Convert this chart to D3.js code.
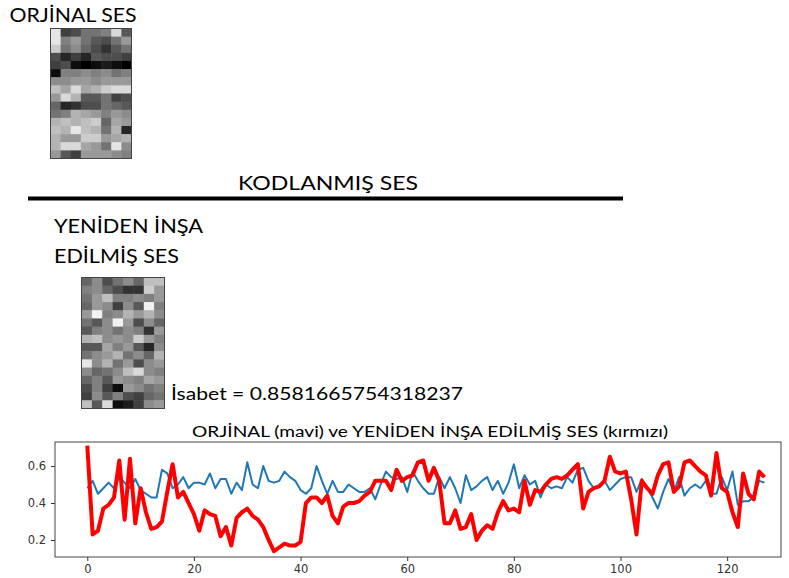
<!DOCTYPE html>
<html>
<head>
<meta charset="utf-8">
<script src="https://cdn.jsdelivr.net/npm/d3@7"></script>
<style>
  body { margin: 0; background: #fff; }
  svg { display: block; }
</style>
</head>
<body>
<svg></svg>
<script>
// orijinal ses (mavi) ve yeniden insa edilmis ses (kirmizi), 128 ornek
const orjinal = [
  0.48, 0.52, 0.45, 0.48, 0.51, 0.48, 0.54, 0.51, 0.48, 0.53, 0.47, 0.45, 0.43, 0.43, 0.58, 0.56,
  0.48, 0.50, 0.54, 0.48, 0.51, 0.51, 0.50, 0.56, 0.48, 0.53, 0.53, 0.45, 0.51, 0.47, 0.62, 0.50,
  0.48, 0.60, 0.52, 0.51, 0.52, 0.57, 0.54, 0.52, 0.47, 0.45, 0.48, 0.60, 0.52, 0.45, 0.52, 0.46,
  0.46, 0.50, 0.48, 0.46, 0.46, 0.48, 0.42, 0.50, 0.57, 0.54, 0.53, 0.54, 0.46, 0.57, 0.52, 0.48,
  0.45, 0.45, 0.54, 0.48, 0.54, 0.48, 0.40, 0.55, 0.47, 0.49, 0.52, 0.54, 0.47, 0.52, 0.45, 0.51,
  0.61, 0.48, 0.55, 0.50, 0.52, 0.43, 0.50, 0.48, 0.49, 0.48, 0.54, 0.51, 0.58, 0.59, 0.52, 0.48,
  0.49, 0.52, 0.47, 0.50, 0.53, 0.54, 0.54, 0.46, 0.53, 0.48, 0.43, 0.37, 0.46, 0.53, 0.46, 0.54,
  0.44, 0.48, 0.50, 0.48, 0.52, 0.45, 0.45, 0.54, 0.47, 0.57, 0.39, 0.41, 0.41, 0.43, 0.52, 0.51
]
const yeniden = [
  0.71, 0.23, 0.25, 0.37, 0.39, 0.43, 0.63, 0.31, 0.64, 0.29, 0.48, 0.35, 0.26, 0.27, 0.30, 0.46,
  0.61, 0.43, 0.46, 0.40, 0.34, 0.25, 0.36, 0.34, 0.33, 0.22, 0.27, 0.17, 0.32, 0.35, 0.37, 0.33,
  0.31, 0.27, 0.20, 0.14, 0.16, 0.18, 0.17, 0.17, 0.19, 0.40, 0.43, 0.43, 0.40, 0.44, 0.33, 0.29,
  0.38, 0.40, 0.40, 0.41, 0.44, 0.46, 0.52, 0.52, 0.52, 0.47, 0.58, 0.52, 0.54, 0.55, 0.62, 0.63,
  0.52, 0.59, 0.52, 0.29, 0.29, 0.36, 0.26, 0.27, 0.34, 0.20, 0.25, 0.28, 0.26, 0.35, 0.41, 0.36,
  0.37, 0.35, 0.52, 0.39, 0.47, 0.46, 0.50, 0.53, 0.54, 0.53, 0.55, 0.58, 0.61, 0.37, 0.46, 0.48,
  0.49, 0.52, 0.65, 0.57, 0.56, 0.57, 0.42, 0.23, 0.52, 0.48, 0.45, 0.55, 0.61, 0.62, 0.46, 0.49,
  0.62, 0.63, 0.60, 0.57, 0.55, 0.44, 0.67, 0.48, 0.46, 0.35, 0.27, 0.56, 0.45, 0.42, 0.57, 0.54
]
const xTicks = [0, 20, 40, 60, 80, 100, 120]
const yTicks = [0.2, 0.4, 0.6]

// 8 sutun x 16 satir gri seviye (0 siyah, 1 beyaz)
const orjinalGoruntu = [
  [0.90, 0.25, 0.30, 0.45, 0.45, 0.50, 0.85, 0.35],
  [0.90, 0.50, 0.60, 0.45, 0.35, 0.30, 0.45, 0.60],
  [0.80, 0.45, 0.55, 0.40, 0.30, 0.20, 0.35, 0.45],
  [0.30, 0.15, 0.25, 0.15, 0.35, 0.30, 0.30, 0.25],
  [0.25, 0.30, 0.05, 0.00, 0.05, 0.10, 0.05, 0.02],
  [0.05, 0.50, 0.50, 0.55, 0.50, 0.55, 0.45, 0.50],
  [0.55, 0.55, 0.60, 0.60, 0.55, 0.60, 0.60, 0.60],
  [0.75, 0.65, 0.85, 0.65, 0.70, 0.80, 0.85, 0.85],
  [0.60, 0.85, 0.70, 0.35, 0.35, 0.45, 0.25, 0.30],
  [0.40, 0.15, 0.20, 0.30, 0.30, 0.45, 0.40, 0.35],
  [0.45, 0.50, 0.70, 0.65, 0.60, 0.50, 0.60, 0.55],
  [0.70, 0.75, 0.70, 0.75, 0.80, 0.40, 0.65, 0.60],
  [0.75, 0.70, 0.90, 0.75, 0.70, 0.45, 0.70, 0.15],
  [0.70, 0.60, 0.60, 0.80, 0.80, 0.60, 0.65, 0.70],
  [0.70, 0.85, 0.85, 0.65, 0.60, 0.45, 0.90, 0.55],
  [0.60, 0.35, 0.25, 0.60, 0.60, 0.60, 0.55, 0.50]
]
const yenidenGoruntu = [
  [0.40, 0.55, 0.30, 0.45, 0.55, 0.40, 0.75, 0.75],
  [0.50, 0.55, 0.40, 0.30, 0.20, 0.20, 0.80, 0.60],
  [0.45, 0.60, 0.75, 0.50, 0.50, 0.55, 0.50, 0.60],
  [0.40, 0.60, 0.55, 0.25, 0.55, 0.35, 0.95, 0.50],
  [0.60, 0.95, 0.50, 0.55, 0.70, 0.60, 0.70, 0.55],
  [0.45, 0.35, 0.55, 0.95, 0.60, 0.30, 0.55, 0.40],
  [0.35, 0.50, 0.55, 0.45, 0.55, 0.50, 0.20, 0.60],
  [0.70, 0.75, 0.55, 0.60, 0.55, 0.80, 0.60, 0.50],
  [0.35, 0.35, 0.65, 0.50, 0.60, 0.35, 0.15, 0.55],
  [0.45, 0.55, 0.60, 0.70, 0.45, 0.55, 0.40, 0.70],
  [0.90, 0.55, 0.70, 0.45, 0.60, 0.30, 0.55, 0.60],
  [0.55, 0.40, 0.45, 0.55, 0.75, 0.85, 0.55, 0.50],
  [0.40, 0.50, 0.35, 0.60, 0.55, 0.50, 0.65, 0.60],
  [0.30, 0.50, 0.25, 0.05, 0.60, 0.55, 0.45, 0.50],
  [0.25, 0.55, 0.35, 0.50, 0.30, 0.25, 0.40, 0.45],
  [0.75, 0.35, 0.85, 0.05, 0.10, 0.25, 0.55, 0.60]
]

const width = 789
const height = 578
const svg = d3.select('svg')
    .attr('width', width)
    .attr('height', height)

const yaziFont = 'Lato, "Open Sans", sans-serif'
const eksenFont = '"DejaVu Sans", sans-serif'

svg.append('defs').append('filter')
    .attr('id', 'bulanik')
    .append('feGaussianBlur')
    .attr('stdDeviation', 0.7)

function yazi(metin, x, y, boyut, uzunluk, anchor) {
    return svg.append('text')
        .attr('x', x)
        .attr('y', y)
        .attr('font-family', yaziFont)
        .attr('font-size', boyut)
        .attr('text-anchor', anchor || 'start')
        .attr('textLength', uzunluk)
        .attr('lengthAdjust', 'spacingAndGlyphs')
        .attr('fill', '#000')
        .text(metin)
}

function goruntuCiz(veri, x0, y0, w, h, id) {
    const kolon = d3.scaleBand().domain(d3.range(veri[0].length)).range([x0, x0 + w])
    const satir = d3.scaleBand().domain(d3.range(veri.length)).range([y0, y0 + h])
    const gri = d3.scaleLinear().domain([0, 1]).range(['#000', '#fff'])

    svg.select('defs').append('clipPath')
        .attr('id', id)
        .append('rect')
        .attr('x', x0).attr('y', y0).attr('width', w).attr('height', h)

    const g = svg.append('g')
        .attr('clip-path', `url(#${id})`)
        .append('g')
        .attr('filter', 'url(#bulanik)')

    const hucreler = veri.flatMap((r, i) => r.map((v, j) => ({ i, j, v })))
    g.selectAll('rect')
        .data(hucreler)
        .enter()
        .append('rect')
        .attr('x', d => kolon(d.j))
        .attr('y', d => satir(d.i))
        .attr('width', kolon.bandwidth() + 0.5)
        .attr('height', satir.bandwidth() + 0.5)
        .attr('fill', d => gri(d.v))

    svg.append('rect')
        .attr('x', x0).attr('y', y0).attr('width', w).attr('height', h)
        .attr('fill', 'none')
        .attr('stroke', '#444')
        .attr('stroke-width', 1)
}

// ust kisim
yazi('ORJİNAL SES', 9.5, 22, 18.5, 127)
goruntuCiz(orjinalGoruntu, 50.5, 28.5, 81, 130, 'kirp1')

svg.append('line')
    .attr('x1', 28).attr('x2', 623)
    .attr('y1', 198.5).attr('y2', 198.5)
    .attr('stroke', '#000')
    .attr('stroke-width', 4)
yazi('KODLANMIŞ SES', 238, 190, 18.5, 180)

yazi('YENİDEN İNŞA', 54, 233, 18.5, 149)
yazi('EDİLMİŞ SES', 54, 263, 18.5, 125)
goruntuCiz(yenidenGoruntu, 81.5, 277.5, 83, 131, 'kirp2')

yazi('İsabet = 0.8581665754318237', 171, 399.5, 18, 292)

// grafik
const plot = { left: 55, right: 781, top: 442, bottom: 557 }
const x = d3.scaleLinear()
    .domain([-6.06, 130.1])
    .range([plot.left, plot.right])
const y = d3.scaleLinear()
    .domain([0.108, 0.73])
    .range([plot.bottom, plot.top])

svg.append('g')
    .attr('transform', `translate(0,${plot.bottom})`)
    .call(d3.axisBottom(x).tickValues(xTicks).tickFormat(d3.format('d')).tickSize(4).tickPadding(4))
svg.append('g')
    .attr('transform', `translate(${plot.left},0)`)
    .call(d3.axisLeft(y).tickValues(yTicks).tickFormat(d3.format('.1f')).tickSize(4).tickPadding(5))

svg.selectAll('.domain').remove()
svg.selectAll('.tick line').attr('stroke', '#333')
svg.selectAll('.tick text')
    .attr('font-family', eksenFont)
    .attr('font-size', 11.5)
    .attr('fill', '#333')

const cizgi = d3.line()
    .x((d, i) => x(i))
    .y(d => y(d))

svg.append('path')
    .datum(orjinal)
    .attr('d', cizgi)
    .attr('fill', 'none')
    .attr('stroke', '#1f77b4')
    .attr('stroke-width', 2)
    .attr('stroke-linejoin', 'round')

svg.append('path')
    .datum(yeniden)
    .attr('d', cizgi)
    .attr('fill', 'none')
    .attr('stroke', 'red')
    .attr('stroke-width', 4)
    .attr('stroke-linejoin', 'round')

svg.append('rect')
    .attr('x', plot.left).attr('y', plot.top)
    .attr('width', plot.right - plot.left)
    .attr('height', plot.bottom - plot.top)
    .attr('fill', 'none')
    .attr('stroke', '#444')
    .attr('stroke-width', 1)

yazi('ORJİNAL (mavi) ve YENİDEN İNŞA EDİLMİŞ SES (kırmızı)', 192, 437, 14.5, 476)
</script>
</body>
</html>
